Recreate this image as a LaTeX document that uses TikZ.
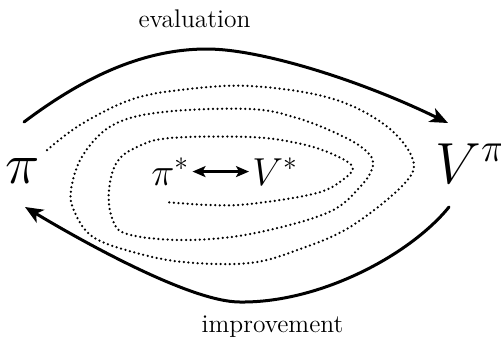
\RequirePackage{fix-cm}
\documentclass[tikz,border=0pt]{standalone}
\usetikzlibrary{arrows.meta}

\begin{document}
\begin{tikzpicture}[x=0.5pt, y=-0.5pt, line cap=round, line join=round,
		>={Stealth[length=9pt, width=7.5pt, inset=2.5pt]},
		flow/.style={->, line width=1.5pt},
		spiral/.style={line width=1.25pt, dash pattern=on 0pt off 2.3pt},
		bigsym/.style={font=\fontsize{29}{34}\selectfont, inner sep=0pt},
		midsym/.style={font=\fontsize{19.5}{23}\selectfont, inner sep=1.5pt},
		lbl/.style={font=\fontsize{12.75}{15}\selectfont, inner sep=0pt}]
	% Bounding box (pixels of the reference, y downwards)
	\useasboundingbox (0,0) rectangle (501,338);
	
	% Policy and value function
	\node[bigsym, anchor=base] (pi) at (23,183) {$\pi$};
	\node[bigsym, anchor=base west] (vpi) at (435,183) {$V^{\pi}$};
	
	% Optimal pair in the middle
	\node[midsym, anchor=base west] (pistar) at (148,185) {$\pi^*$};
	\node[midsym, anchor=base west] (vstar) at (249,185) {$V^*$};
	\draw[<->, line width=1.1pt, >={Stealth[length=6.5pt, width=5.5pt, inset=1.5pt]}]
	(pistar.east) -- (vstar.west);
	
	% Labels of the two steps
	\node[lbl, anchor=base] (eval) at (194.5,27) {evaluation};
	\node[lbl, anchor=base] (impr) at (272.5,332) {improvement};
	
	% End points of the two arcs
	\coordinate (evalA) at (24,122);
	\coordinate (evaltop) at (207,49);
	\coordinate (evalB) at (448,123);
	\coordinate (imprA) at (449,207);
	\coordinate (imprbot) at (240,302);
	\coordinate (imprB) at (25,207);
	
	% Evaluation arc (top)
	\draw[flow] (evalA) .. controls (80,80) and (140,49) .. (evaltop)
	.. controls (260,49) and (360,80) .. (evalB);
	
	% Improvement arc (bottom)
	\draw[flow] (imprA) .. controls (410,255) and (320,303) .. (imprbot)
	.. controls (190,302) and (80,240) .. (imprB);
	
	% Dotted spiral towards the optimum
	\draw[spiral] plot[smooth, tension=0.6] coordinates {
		(47,150) (80,125) (130,100) (180,90) (250,86) (330,98) (385,125)
		(413,160) (402,186) (350,227) (300,249) (250,263) (183,262)
		(133,252) (93,237) (75,213) (71,190) (83,155) (113,125) (163,112)
		(250,109) (297,118) (340,135) (365,150) (373,165) (360,187)
		(327,213) (250,234) (183,240) (127,234) (112,218) (109,190)
		(117,162) (137,147) (170,138) (250,137) (297,143) (330,153)
		(352,166) (345,178) (317,193) (250,204) (210,205) (165,202)};
\end{tikzpicture}
\end{document}
